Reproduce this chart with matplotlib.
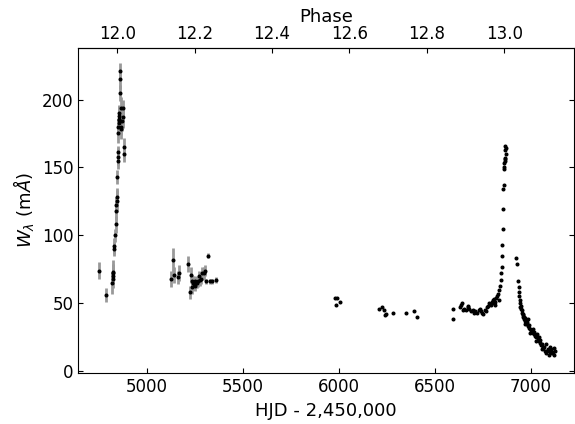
import matplotlib
matplotlib.use('Agg')
import matplotlib.pyplot as plt
import numpy as np

# early epochs (with error bars)
hjd1 = [4752, 4786, 4818, 4820, 4822, 4823, 4824, 4828, 4830, 4833,
        4836, 4838, 4840, 4842, 4843, 4845, 4846, 4848, 4849, 4850,
        4851, 4852, 4853, 4854, 4855, 4856, 4857, 4858, 4860, 4862,
        4864, 4866, 4870, 4874, 4876, 4878, 4879]
w1 = [74, 56, 65, 72, 70, 73, 68, 90, 92, 100,
      108, 118, 122, 125, 128, 143, 155, 158, 161, 175,
      180, 186, 188, 190, 185, 183, 205, 215, 221, 194,
      178, 180, 184, 187, 194, 165, 160]
err1 = [6, 5, 8, 7, 6, 9, 7, 5, 6, 5,
        6, 7, 6, 8, 7, 5, 6, 6, 5, 7,
        6, 8, 7, 6, 7, 8, 6, 7, 6, 8,
        7, 6, 7, 8, 6, 7, 6]

hjd2 = [5123, 5135, 5140, 5161, 5165, 5212, 5224, 5229, 5232, 5236,
        5240, 5244, 5248, 5252, 5256, 5260, 5266, 5270, 5276, 5282,
        5288, 5294, 5300, 5318, 5308, 5328, 5339, 5359]
w2 = [68, 82, 71, 69, 72, 79, 58, 71, 62, 66,
      65, 64, 63, 66, 65, 65, 66, 70, 67, 68,
      72, 72, 74, 85, 66, 66, 66, 67]
err2 = [6, 9, 6, 5, 6, 6, 5, 6, 5, 5,
        5, 4, 4, 4, 4, 4, 4, 4, 4, 4,
        5, 5, 4, 2, 2, 2, 2, 2]

# later epochs (errors too small to show)
hjd3 = [5979, 5988, 5984, 6005, 6208, 6224, 6234, 6245, 6238, 6281,
        6349, 6391, 6406]
w3 = [54, 54, 49, 51, 46, 47, 45, 42, 41, 43, 43, 44, 40]

hjd4 = [6596, 6594, 6630, 6636, 6642, 6650, 6660, 6670, 6680, 6690,
        6700, 6710, 6720, 6730, 6740, 6745, 6750, 6760, 6770, 6775,
        6780, 6790, 6795, 6800, 6805, 6810, 6815, 6820, 6825, 6830,
        6835, 6840, 6843, 6846, 6848, 6850, 6852, 6853, 6854, 6856,
        6858, 6860, 6861, 6862, 6864, 6865, 6866, 6866, 6867, 6868,
        6869, 6648, 6672, 6702, 6736, 6764, 6812, 6832,
        6925, 6928, 6934, 6936, 6938, 6940, 6942, 6945, 6948, 6950,
        6952, 6955, 6958, 6960, 6963, 6966, 6968, 6972, 6975, 6978,
        6980, 6985, 6988, 6990, 6995, 7000, 7005, 7010, 7015, 7018,
        7020, 7025, 7030, 7035, 7040, 7045, 7050, 7055, 7058, 7062,
        7065, 7070, 7075, 7080, 7085, 7090, 7095, 7100, 7105, 7110,
        7115, 7120, 7125, 6944, 6957, 6970, 6983, 6998, 7012, 7028,
        7042, 7060, 7078, 7098, 7118]
w4 = [46, 38, 47, 49, 50, 46, 45, 47, 46, 44,
      45, 44, 43, 45, 44, 43, 42, 45, 47, 48,
      50, 49, 51, 50, 52, 53, 51, 54, 55, 57,
      60, 63, 67, 72, 77, 85, 93, 105, 119, 134,
      137, 149, 150, 153, 155, 156, 157, 163, 166, 160,
      164, 45, 48, 43, 46, 44, 49, 52,
      83, 79, 66, 62, 58, 55, 52, 50, 48, 46,
      45, 43, 41, 42, 40, 38, 39, 37, 36, 35,
      36, 33, 32, 34, 31, 29, 30, 28, 27, 29,
      26, 25, 27, 24, 22, 23, 21, 19, 20, 18,
      17, 18, 15, 13, 15, 16, 12, 14, 16, 13,
      14, 17, 15, 47, 40, 35, 38, 28, 31, 22,
      25, 16, 20, 18, 12]

t0 = 4844.0     # HJD of phase 12.0
period = 2018.0


def to_phase(x):
    return 12.0 + (x - t0) / period


def from_phase(p):
    return t0 + (p - 12.0) * period


fig = plt.figure(figsize=(5.75, 4.24), dpi=100)
ax = fig.add_axes([0.136, 0.120, 0.862, 0.767])

ax.errorbar(hjd1, w1, yerr=err1, fmt='o', color='black', ms=1.9,
            ecolor='0.6', elinewidth=2, capsize=0, zorder=3)
ax.errorbar(hjd2, w2, yerr=err2, fmt='o', color='black', ms=1.9,
            ecolor='0.6', elinewidth=2, capsize=0, zorder=3)
ax.plot(hjd3, w3, 'o', color='black', ms=1.9)
ax.plot(hjd4, w4, 'o', color='black', ms=1.9)

ax.set_xlim(4641, 7224)
ax.set_ylim(-1.5, 238)
ax.set_xticks([5000, 5500, 6000, 6500, 7000])
ax.set_yticks([0, 50, 100, 150, 200])
ax.tick_params(direction='in', labelsize=12, right=True, top=False)
ax.set_xlabel('HJD - 2,450,000', fontsize=13)
ax.set_ylabel(r'$W_\lambda$ (m$\AA$)', fontsize=13)

sec = ax.secondary_xaxis('top', functions=(to_phase, from_phase))
sec.set_xticks([12.0, 12.2, 12.4, 12.6, 12.8, 13.0])
sec.set_xticklabels(['12.0', '12.2', '12.4', '12.6', '12.8', '13.0'])
sec.tick_params(direction='in', labelsize=12)
sec.set_xlabel('Phase', fontsize=13, labelpad=2)

fig.savefig('out.png', dpi=100)
